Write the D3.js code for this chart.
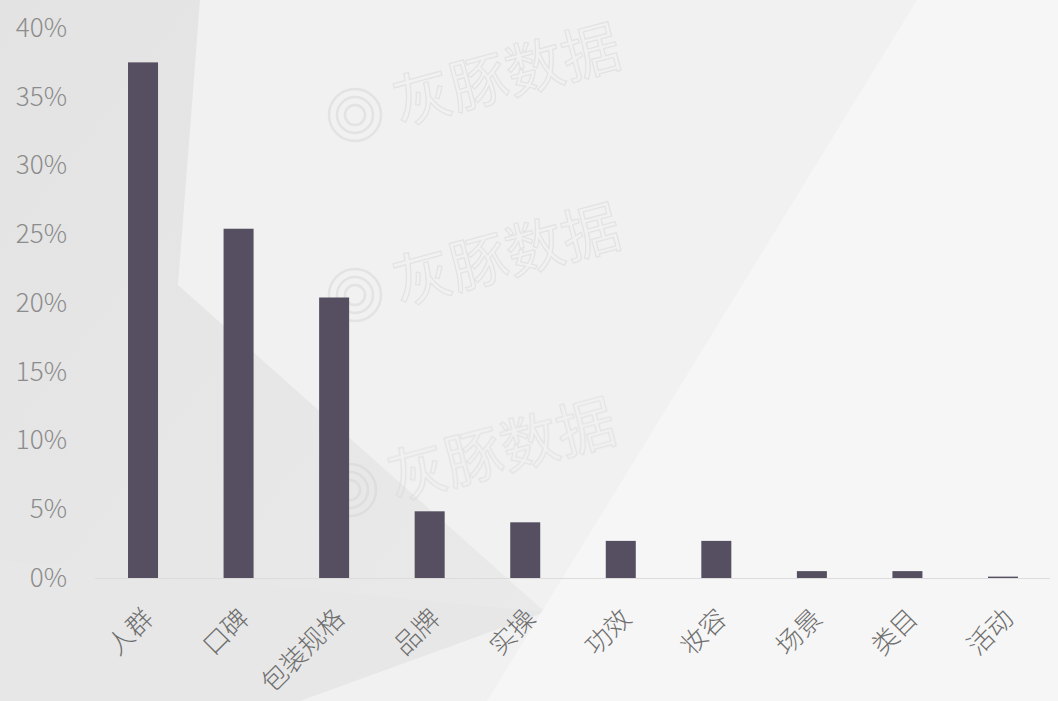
<!DOCTYPE html>
<html><head><meta charset="utf-8">
<script src="https://cdn.jsdelivr.net/npm/d3@7/dist/d3.min.js"></script>
<style>html,body{margin:0;padding:0;background:#f1f1f1;}svg{display:block;}</style>
</head><body>
<svg id="c" width="1058" height="701"></svg>
<script>
const categories = ["人群","口碑","包装规格","品牌","实操","功效","妆容","场景","类目","活动"];
const values = [37.5, 25.4, 20.4, 4.85, 4.05, 2.7, 2.7, 0.5, 0.5, 0.1];
const yTicks = [0,5,10,15,20,25,30,35,40];
const watermark = "灰豚数据";

const W = 1058, H = 701;
const svg = d3.select("#c");
const font = "'Noto Sans CJK SC','Noto Sans',sans-serif";

// background shapes
const defs = svg.append("defs");
const g1 = defs.append("linearGradient").attr("id","gl").attr("x1","0").attr("y1","0").attr("x2","1").attr("y2","1");
g1.append("stop").attr("offset","0").attr("stop-color","#e3e3e3");
g1.append("stop").attr("offset","1").attr("stop-color","#eaeaea");
svg.append("rect").attr("width",W).attr("height",H).attr("fill","#f1f1f1");
svg.append("path").attr("d","M0,0 L200,0 L178,285 L545,612 L0,701 Z").attr("fill","url(#gl)");
svg.append("path").attr("d","M0,560 L545,612 L300,701 L0,701 Z").attr("fill","#e7e7e7");
svg.append("path").attr("d","M917,0 L1058,0 L1058,701 L487,701 Z").attr("fill","#f6f6f6");

// watermarks (faint, fully inside the picture)
const wmPos = [[400,125],[400,305],[395,500]];
const wm = svg.append("g").attr("opacity",0.5);
wm.selectAll("text").data(wmPos).join("text")
  .attr("transform", d => `translate(${d[0]},${d[1]}) rotate(-15)`)
  .attr("font-family", font).attr("font-size", 58)
  .attr("fill","none").attr("stroke","#d4d4d4").attr("stroke-width",1.2)
  .text(watermark);
[26, 18, 10].forEach(r => {
  wm.append("g").selectAll("circle").data(wmPos).join("circle")
    .attr("cx", d => d[0]-45).attr("cy", d => d[1]-10).attr("r", r)
    .attr("fill","none").attr("stroke","#d4d4d4").attr("stroke-width",2.5);
});

const x = d3.scaleBand().domain(categories).range([95.25, 1050.75]).padding(0);
const y = d3.scaleLinear().domain([0,40]).range([578, 28]);
const bw = 30;

// baseline
svg.append("line").attr("x1",95).attr("x2",1050).attr("y1",y(0)+0.5).attr("y2",y(0)+0.5)
  .attr("stroke","#dcdcdc").attr("stroke-width",1);

// y axis
const yAxis = svg.append("g").attr("transform","translate(67,0)")
  .call(d3.axisLeft(y).tickValues(yTicks).tickFormat(d => d + "%").tickSize(0).tickPadding(0));
yAxis.select(".domain").remove();
yAxis.selectAll("text").attr("font-family", font).attr("font-size", 26).attr("font-weight",300)
  .attr("fill","#8c8c8c");

// bars
svg.append("g").selectAll("rect").data(categories).join("rect")
  .attr("x", d => x(d) + x.bandwidth()/2 - bw/2)
  .attr("width", bw)
  .attr("y", (d,i) => y(values[i]))
  .attr("height", (d,i) => y(0) - y(values[i]))
  .attr("fill", "#564e61");

// x labels
const xAxis = svg.append("g").attr("transform", `translate(0,${y(0)})`)
  .call(d3.axisBottom(x).tickSize(0).tickPadding(0));
xAxis.select(".domain").remove();
xAxis.selectAll("text")
  .attr("font-family", font).attr("font-size", 26).attr("font-weight",300).attr("fill","#6e6e6e")
  .attr("text-anchor","end")
  .attr("y", 0).attr("dy", 0)
  .attr("transform","translate(12,42) rotate(-45)");
</script>
</body></html>
